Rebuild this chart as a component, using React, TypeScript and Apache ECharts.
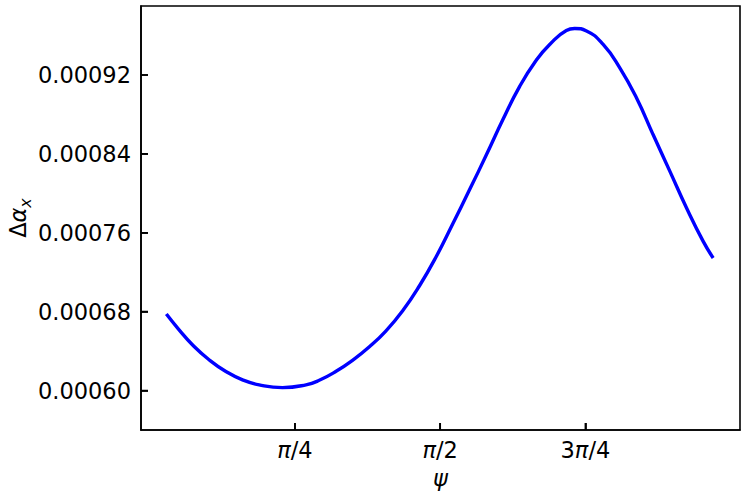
import React, { useEffect, useRef } from "react";
import * as echarts from "echarts";

// psi (radians) and Δα_x
const psiValues = [
  0.09, 0.159, 0.231, 0.321, 0.412, 0.502, 0.592, 0.718, 0.845, 0.917, 1.008,
  1.097, 1.188, 1.278, 1.368, 1.459, 1.549, 1.639, 1.730, 1.820, 1.910, 2.000,
  2.091, 2.163, 2.253, 2.298, 2.362, 2.452, 2.542, 2.632, 2.722, 2.813, 2.903,
  2.993, 3.047,
];
const deltaAlpha = [
  0.0006776, 0.0006616, 0.0006464, 0.0006312, 0.0006193, 0.0006109, 0.0006058,
  0.000603, 0.0006058, 0.0006104, 0.0006195, 0.0006307, 0.0006444, 0.0006606,
  0.0006809, 0.0007063, 0.0007357, 0.0007692, 0.0008038, 0.0008388, 0.0008748,
  0.0009083, 0.0009352, 0.000951, 0.0009652, 0.0009672, 0.0009647, 0.000951,
  0.0009273, 0.0008969, 0.0008596, 0.0008223, 0.0007852, 0.0007513, 0.0007344,
];
const xTickValues = [Math.PI / 4, Math.PI / 2, (3 * Math.PI) / 4];
const xTickLabels = ["{i|π}/4", "{i|π}/2", "3{i|π}/4"];
const yTickValues = [0.0006, 0.00068, 0.00076, 0.00084, 0.00092];

const X_MIN = -0.047;
const X_MAX = 3.192;
const Y_MIN = 0.00056;
const Y_MAX = 0.00099;

const FONT = "DejaVu Sans";
const FS = 22.5;
const TICK_LEN = 7;
const GRID = { left: 141, right: 7, top: 6, bottom: 68 };
const W = 747;
const H = 498;
const AXIS_LINE = { show: true, onZero: false, lineStyle: { color: "#000", width: 1.6 } };

export default function App() {
  const ref = useRef<HTMLDivElement>(null);
  useEffect(() => {
    const chart = echarts.init(ref.current!, null, { renderer: "svg" });
    const data = psiValues.map((x, i) => [x, deltaAlpha[i]]);
    // tick length expressed in each axis's data units
    const dy = ((Y_MAX - Y_MIN) * TICK_LEN) / (H - GRID.top - GRID.bottom);
    const dx = ((X_MAX - X_MIN) * TICK_LEN) / (W - GRID.left - GRID.right);
    const tickData: any[] = [];
    xTickValues.forEach((v) => {
      tickData.push([v, Y_MIN], [v, Y_MIN + dy], null);
    });
    yTickValues.forEach((v) => {
      tickData.push([X_MIN, v], [X_MIN + dx, v], null);
    });
    chart.setOption({
      animation: false,
      backgroundColor: "#ffffff",
      grid: {
        ...GRID,
        containLabel: false,
        outerBoundsMode: "none",
        show: true,
        borderColor: "#000",
        borderWidth: 1.6,
      },
      xAxis: {
        type: "value",
        min: X_MIN,
        max: X_MAX,
        name: "ψ",
        nameLocation: "middle",
        nameGap: 36,
        nameMoveOverlap: false,
        nameTextStyle: {
          fontFamily: FONT,
          fontSize: FS,
          fontStyle: "italic",
          color: "#000",
        },
        axisLine: AXIS_LINE,
        splitLine: { show: false },
        axisTick: {
          show: true,
          inside: true,
          length: TICK_LEN,
          customValues: xTickValues,
          lineStyle: { color: "#000", width: 1.7 },
        },
        axisLabel: {
          customValues: xTickValues,
          margin: 8,
          fontFamily: FONT,
          fontSize: FS,
          color: "#000",
          rich: {
            i: { fontFamily: FONT, fontSize: FS, fontStyle: "italic", color: "#000" },
          },
          formatter: (v: number) => {
            const i = xTickValues.findIndex((t) => Math.abs(t - v) < 1e-6);
            return i >= 0 ? xTickLabels[i] : "";
          },
        },
      },
      yAxis: {
        type: "value",
        min: Y_MIN,
        max: Y_MAX,
        name: "{d|Δ}{a|α}{s|x}",
        nameLocation: "middle",
        nameRotate: 90,
        nameGap: 108,
        nameMoveOverlap: false,
        nameTextStyle: {
          color: "#000",
          rich: {
            d: { fontFamily: FONT, fontSize: FS, color: "#000", lineHeight: 30, verticalAlign: "middle" },
            a: { fontFamily: FONT, fontSize: FS, fontStyle: "italic", color: "#000", lineHeight: 30, verticalAlign: "middle" },
            s: { fontFamily: FONT, fontSize: 16, fontStyle: "italic", color: "#000", lineHeight: 30, verticalAlign: "bottom", padding: [8, 0, 0, 0] },
          },
        },
        axisLine: AXIS_LINE,
        splitLine: { show: false },
        axisTick: {
          show: true,
          inside: true,
          length: TICK_LEN,
          customValues: yTickValues,
          lineStyle: { color: "#000", width: 1.7 },
        },
        axisLabel: {
          customValues: yTickValues,
          margin: 10,
          fontFamily: FONT,
          fontSize: FS,
          color: "#000",
          formatter: (v: number) => v.toFixed(5),
        },
      },
      series: [
        {
          type: "line",
          data,
          smooth: 0.5,
          showSymbol: false,
          lineStyle: { color: "#0000ff", width: 3.4 },
        },
        {
          type: "line",
          data: tickData,
          showSymbol: false,
          connectNulls: false,
          clip: false,
          silent: true,
          z: 10,
          lineStyle: { color: "#000", width: 1.7 },
        },
      ],
    });
    return () => chart.dispose();
  }, []);
  return (
    <div
      ref={ref}
      style={{ position: "fixed", left: 0, top: 0, width: W, height: H }}
    />
  );
}
